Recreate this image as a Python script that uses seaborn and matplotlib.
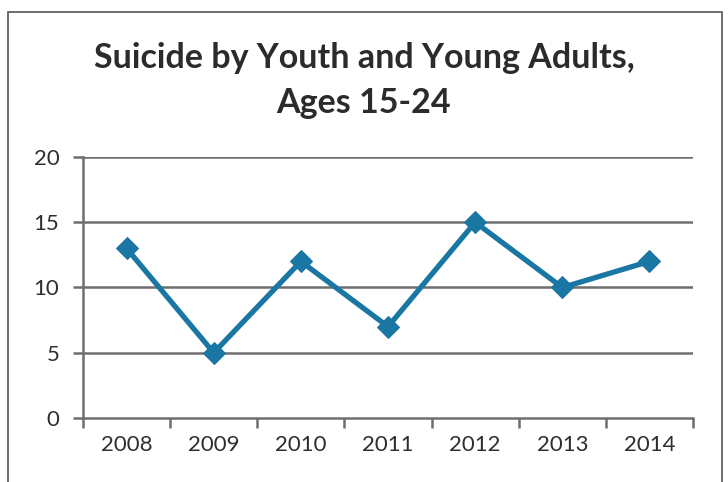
import matplotlib
matplotlib.use("Agg")
import matplotlib.pyplot as plt
import seaborn as sns
import pandas as pd
from matplotlib.patches import Rectangle

years = ["2008", "2009", "2010", "2011", "2012", "2013", "2014"]
values = [13, 5, 12, 7, 15, 10, 12]
title = "Suicide by Youth and Young Adults,\nAges 15-24"

sns.set_theme(style="white")
plt.rcParams['font.family'] = ['Lato', 'DejaVu Sans']

df = pd.DataFrame({"year": years, "value": values})

fig = plt.figure(figsize=(7.28, 4.82), dpi=100)
ax = fig.add_axes([0.114, 0.1328, 0.838, 0.5415])

color = "#1a76a2"
sns.lineplot(data=df, x="year", y="value", ax=ax, color=color, linewidth=3.8,
             marker="D", markersize=11, markeredgecolor=color, sort=False)

ax.set_xlim(-0.5, len(years) - 0.5)
ax.set_ylim(0, 20)
ax.set_yticks([0, 5, 10, 15, 20])
ax.set_xticks(range(len(years)))
ax.set_xticklabels(years)
ax.set_xlabel("")
ax.set_ylabel("")

# gridlines
for yv in [5, 10, 15, 20]:
    ax.axhline(yv, color="#6e6e6e", linewidth=1.8, zorder=0)

for s in ["top", "right"]:
    ax.spines[s].set_visible(False)
for s in ["left", "bottom"]:
    ax.spines[s].set_color("#6e6e6e")
    ax.spines[s].set_linewidth(1.8)

# tick marks between categories on x
ax.set_xticks([i - 0.5 for i in range(len(years) + 1)], minor=True)
ax.tick_params(axis="x", which="major", length=0, pad=12, labelsize=16, labelcolor="#2e2e2e")
ax.tick_params(axis="x", which="minor", length=7, width=1.8, color="#6e6e6e", direction="out", bottom=True)
ax.tick_params(axis="y", which="major", length=7, width=1.8, color="#6e6e6e", direction="out",
               left=True, pad=10, labelsize=16, labelcolor="#2e2e2e")

fig.text(0.5, 0.832, title, ha="center", va="center", fontsize=24.5, fontweight="bold",
         color="#2b2b2b", linespacing=1.5)

# chart frame
fig.patches.append(Rectangle((8 / 728, -0.05), (722 - 8) / 728, 1 - 12 / 482 + 0.05,
                             transform=fig.transFigure, fill=False, edgecolor="#555555",
                             linewidth=1.2))

fig.savefig("out.png", dpi=100)
